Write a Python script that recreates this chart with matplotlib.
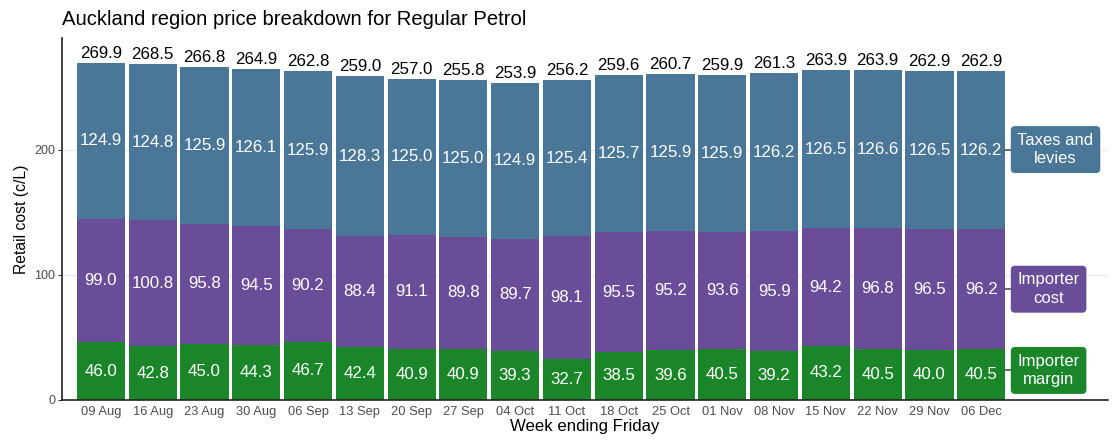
import numpy as np
import matplotlib
matplotlib.use('Agg')
import matplotlib.pyplot as plt

plt.rcParams['font.family'] = ['Liberation Sans', 'DejaVu Sans']

weeks = ['09 Aug', '16 Aug', '23 Aug', '30 Aug', '06 Sep', '13 Sep', '20 Sep', '27 Sep',
         '04 Oct', '11 Oct', '18 Oct', '25 Oct', '01 Nov', '08 Nov', '15 Nov', '22 Nov',
         '29 Nov', '06 Dec']
margin = [46.0, 42.8, 45.0, 44.3, 46.7, 42.4, 40.9, 40.9, 39.3, 32.7, 38.5, 39.6,
          40.5, 39.2, 43.2, 40.5, 40.0, 40.5]
cost = [99.0, 100.8, 95.8, 94.5, 90.2, 88.4, 91.1, 89.8, 89.7, 98.1, 95.5, 95.2,
        93.6, 95.9, 94.2, 96.8, 96.5, 96.2]
taxes = [124.9, 124.8, 125.9, 126.1, 125.9, 128.3, 125.0, 125.0, 124.9, 125.4, 125.7,
         125.9, 125.9, 126.2, 126.5, 126.6, 126.5, 126.2]
totals = [269.9, 268.5, 266.8, 264.9, 262.8, 259.0, 257.0, 255.8, 253.9, 256.2, 259.6,
          260.7, 259.9, 261.3, 263.9, 263.9, 262.9, 262.9]

c_tax, c_cost, c_margin = '#4a7797', '#694d99', '#1b8629'

fig = plt.figure(figsize=(11.14, 4.41), dpi=100)
ax = fig.add_axes([0.0557, 0.093, 0.939, 0.821])

x = np.arange(len(weeks))
m = np.array(margin); c = np.array(cost); t = np.array(taxes)
w = 0.93
ax.bar(x, m, w, color=c_margin, zorder=2)
ax.bar(x, c, w, bottom=m, color=c_cost, zorder=2)
ax.bar(x, t, w, bottom=m + c, color=c_tax, zorder=2)

fs = 12.2
for i in x:
    ax.text(i, m[i] / 2, f'{m[i]:.1f}', ha='center', va='center', color='white', fontsize=fs, zorder=3)
    ax.text(i, m[i] + c[i] / 2, f'{c[i]:.1f}', ha='center', va='center', color='white', fontsize=fs, zorder=3)
    ax.text(i, m[i] + c[i] + t[i] / 2, f'{t[i]:.1f}', ha='center', va='center', color='white', fontsize=fs, zorder=3)
    ax.text(i, m[i] + c[i] + t[i] + 4.0, f'{totals[i]:.1f}', ha='center', va='baseline', color='black', fontsize=fs, zorder=3)

# labels on right, next to last bar
last = len(weeks) - 1
lab_x = last + 0.7
for txt, yv, col in [('Taxes and\nlevies', m[last] + c[last] + t[last] / 2 + 0.5, c_tax),
                     ('Importer\ncost', m[last] + c[last] / 2, c_cost),
                     ('Importer\nmargin', m[last] / 2 + 3.4, c_margin)]:
    ax.plot([last + w / 2, lab_x], [yv, yv], color='#555555', lw=1.2, zorder=3)
    ax.text(lab_x, yv, txt, ha='left', va='center', color='white', fontsize=12,
            multialignment='center', linespacing=1.3, zorder=4,
            bbox=dict(boxstyle='round,pad=0.4,rounding_size=0.25', facecolor=col, edgecolor='none'))

ax.set_xlim(-0.75, 19.45)
ax.set_ylim(0, 289.6)
ax.set_xticks(x)
ax.set_xticklabels(weeks, fontsize=9.3, color='#4d4d4d')
ax.set_yticks([0, 100, 200])
ax.set_yticklabels(['0', '100', '200'], fontsize=9, color='#4d4d4d')
ax.tick_params(axis='x', length=0, pad=4)
ax.tick_params(axis='y', length=3, color='#333333', pad=2)
ax.grid(axis='y', color='#ebebeb', lw=0.8, zorder=0)
for s in ['top', 'right']:
    ax.spines[s].set_visible(False)
ax.spines['left'].set_color('#222222')
ax.spines['bottom'].set_color('#222222')
ax.spines['left'].set_linewidth(1.2)
ax.spines['bottom'].set_linewidth(1.2)

ax.set_ylabel('Retail cost (c/L)', fontsize=11.3, labelpad=4)
ax.set_xlabel('Week ending Friday', fontsize=12.1, labelpad=1)
fig.text(0.0557, 0.955, 'Auckland region price breakdown for Regular Petrol', fontsize=14.6,
         ha='left', va='center')

fig.savefig('out.png', dpi=100)
